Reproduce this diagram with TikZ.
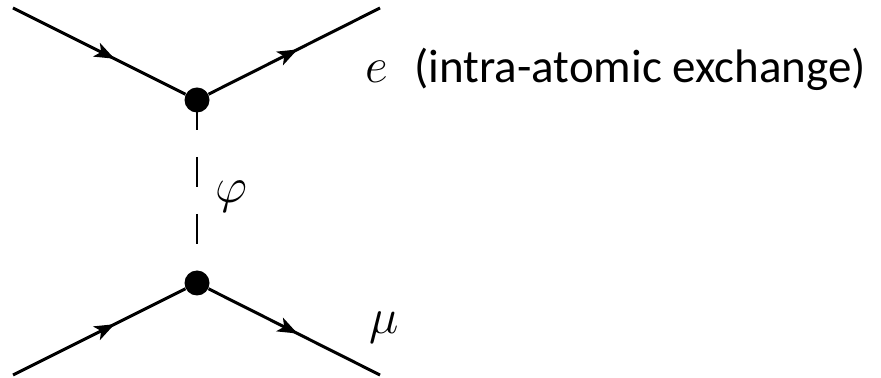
\documentclass[tikz,border=0pt]{standalone}
\usepackage{fontspec}
\setmainfont{Carlito}
\usetikzlibrary{arrows.meta,decorations.markings}
\begin{document}
\begin{tikzpicture}[
 x=.5pt,y=-.5pt,
 line/.style={line width=1.5pt},
 fermion/.style={line,postaction={decorate},
  decoration={markings,mark=at position #1 with
   {\arrow{Stealth[length=10pt,width=7.5pt,inset=2.5pt]}}}},
 fermion/.default=.55,
 vertex/.style={circle,fill,inner sep=0pt,minimum size=12.5pt},
 scalar/.style={line width=1.25pt,dash pattern=on 15pt off 13.5pt},
 every node/.style={inner sep=0pt}]
 \useasboundingbox (0,0) rectangle (881,378);
 % Two vertices joined by the exchanged scalar.
 \node[vertex] (top) at (197,100){};
 \node[vertex] (bot) at (197,283){};
 \coordinate (in1) at (13,8);   \coordinate (out1) at (380,8);
 \coordinate (in2) at (13,375); \coordinate (out2) at (380,375);
 \draw[fermion=.59] (in1)--(top);
 \draw[fermion=.52] (top)--(out1);
 \draw[fermion=.59] (in2)--(bot);
 \draw[fermion=.52] (bot)--(out2);
 \draw[scalar] (top.center)--(bot.center);
 % Labels.
 \node[anchor=base west,font=\fontsize{23}{23}\selectfont] (elbl) at (365,83){$e$};
 \node[anchor=base west,font=\fontsize{23.5}{23.5}\selectfont] (note) at (414,83){(intra-atomic exchange)};
 \node[font=\fontsize{27}{27}\selectfont] (philbl) at (231,197){$\varphi$};
 \node[font=\fontsize{24}{24}\selectfont] (mulbl) at (384,328){$\mu$};
\end{tikzpicture}
\end{document}
